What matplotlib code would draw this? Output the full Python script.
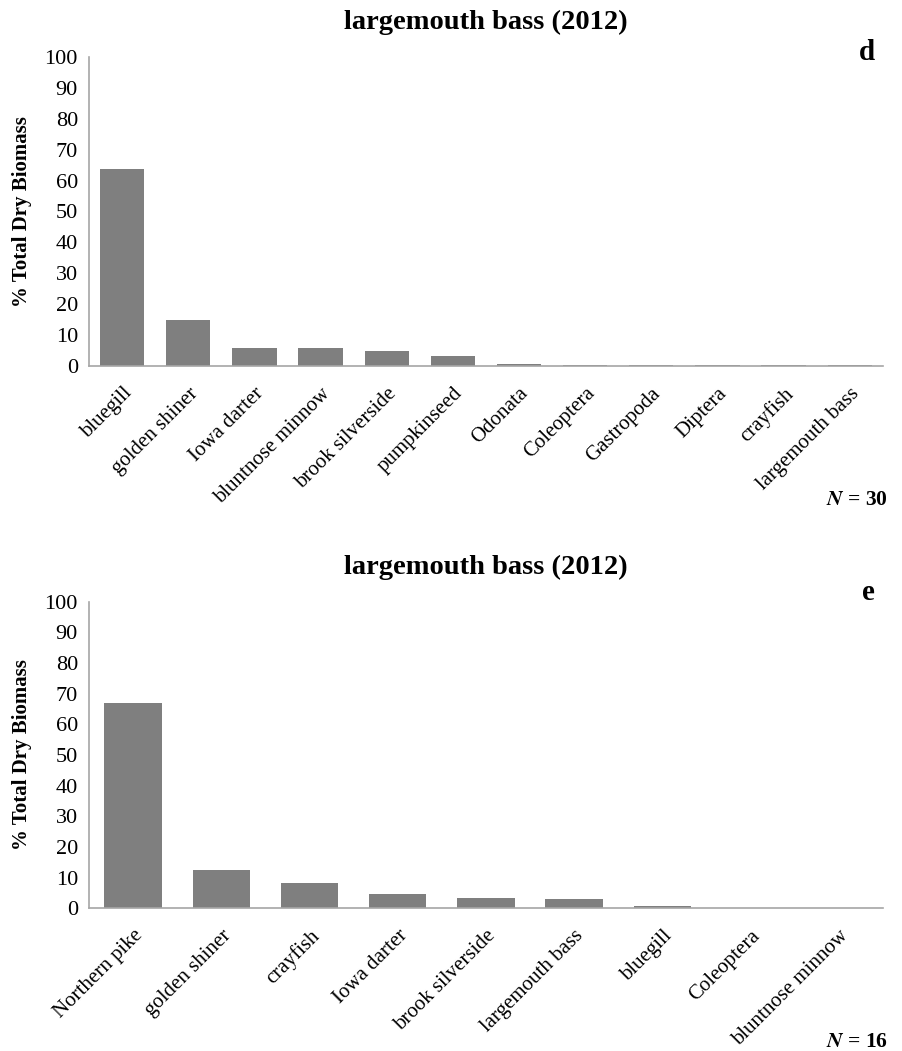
import numpy as np
import matplotlib
matplotlib.use("Agg")
import matplotlib.pyplot as plt

plt.rcParams['font.family'] = ['Liberation Serif', 'DejaVu Serif']
plt.rcParams['mathtext.fontset'] = 'stix'

# diet composition, panel d
prey_d = ['bluegill', 'golden shiner', 'Iowa darter', 'bluntnose minnow',
          'brook silverside', 'pumpkinseed', 'Odonata', 'Coleoptera',
          'Gastropoda', 'Diptera', 'crayfish', 'largemouth bass']
pct_d = [63.8, 14.8, 5.9, 5.9, 5.0, 3.3, 0.7, 0.3, 0.3, 0.3, 0.3, 0.3]
n_d = 30

# diet composition, panel e
prey_e = ['Northern pike', 'golden shiner', 'crayfish', 'Iowa darter',
          'brook silverside', 'largemouth bass', 'bluegill', 'Coleoptera',
          'bluntnose minnow']
pct_e = [67.0, 12.5, 8.1, 4.6, 3.5, 2.9, 0.6, 0.05, 0.05]
n_e = 16

title = 'largemouth bass (2012)'
bar_color = '#7f7f7f'
axis_color = '#a6a6a6'

fig = plt.figure(figsize=(9.02, 10.51), dpi=100)
ax_d = fig.add_axes([0.0987, 0.6518, 0.880, 0.294])
ax_e = fig.add_axes([0.0987, 0.1358, 0.880, 0.2917])


def draw_panel(ax, names, values, letter, letter_y, n, width):
    x = np.arange(len(names))
    ax.bar(x, values, width=width, color=bar_color, edgecolor='none')
    ax.set_xlim(-0.5, len(names) - 0.5)
    ax.set_ylim(0, 100)
    ax.set_yticks(range(0, 101, 10))
    ax.tick_params(axis='y', length=0, labelsize=16, pad=8)
    ax.tick_params(axis='x', length=0, pad=13)
    ax.set_xticks(x)
    ax.set_xticklabels(names, rotation=45, ha='right', rotation_mode='anchor',
                       fontsize=15)
    for s in ['top', 'right']:
        ax.spines[s].set_visible(False)
    for s in ['left', 'bottom']:
        ax.spines[s].set_color(axis_color)
        ax.spines[s].set_linewidth(1.2)
    ax.set_ylabel('% Total Dry Biomass', fontsize=15, fontweight='bold',
                  labelpad=9)
    ax.text(0.5, 1.07, title, transform=ax.transAxes, ha='center',
            va='bottom', fontsize=20.5, fontweight='bold')
    ax.text(0.99, letter_y, letter, transform=ax.transAxes, ha='right',
            va='center', fontsize=21, fontweight='bold')
    ax.text(1.006, -0.435, r'$\mathbfit{N}$ = %d' % n, transform=ax.transAxes,
            ha='right', va='center', fontsize=15.5, fontweight='bold')


draw_panel(ax_d, prey_d, pct_d, 'd', 1.016, n_d, 0.67)
draw_panel(ax_e, prey_e, pct_e, 'e', 1.03, n_e, 0.65)

fig.savefig('out.png', dpi=100, facecolor='white')
